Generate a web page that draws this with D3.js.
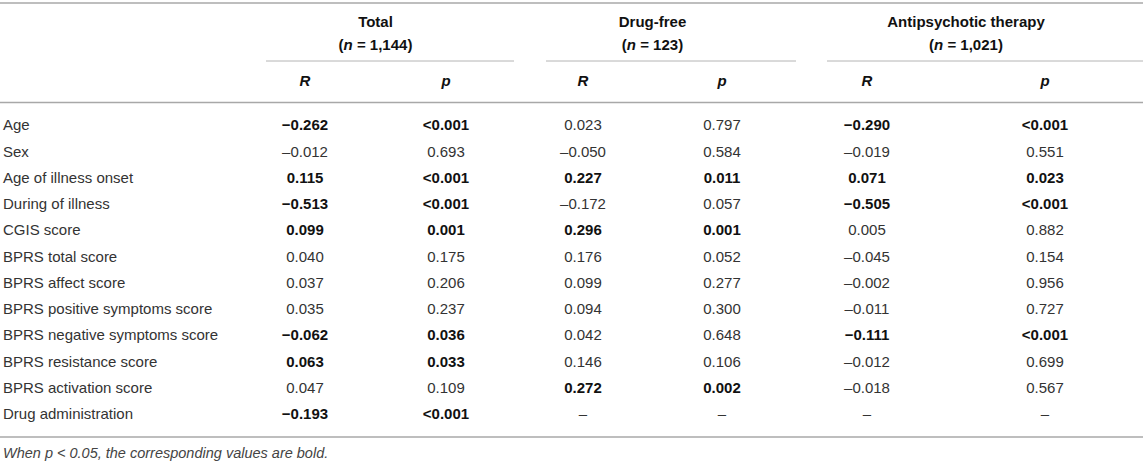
<!DOCTYPE html>
<html>
<head>
<meta charset="utf-8">
<script src="https://cdn.jsdelivr.net/npm/d3@7"></script>
<style>
  body { margin: 0; background: #fff; }
  svg { display: block; font-family: "Liberation Sans", Arial, Helvetica, sans-serif; }
</style>
</head>
<body>
<svg id="drawing_region"></svg>
<script>
// table contents
const rowLabels = ["Age", "Sex", "Age of illness onset", "During of illness", "CGIS score",
    "BPRS total score", "BPRS affect score", "BPRS positive symptoms score",
    "BPRS negative symptoms score", "BPRS resistance score", "BPRS activation score",
    "Drug administration"];

const groupNames = ["Total", "Drug-free", "Antipsychotic therapy"];
const groupN = ["1,144", "123", "1,021"];
const subHeaders = ["R", "p"];

const totalR  = [-0.262, -0.012, 0.115, -0.513, 0.099, 0.040, 0.037, 0.035, -0.062, 0.063, 0.047, -0.193];
const totalP  = ["<0.001", "0.693", "<0.001", "<0.001", "0.001", "0.175", "0.206", "0.237", "0.036", "0.033", "0.109", "<0.001"];
const freeR   = [0.023, -0.050, 0.227, -0.172, 0.296, 0.176, 0.099, 0.094, 0.042, 0.146, 0.272, null];
const freeP   = ["0.797", "0.584", "0.011", "0.057", "0.001", "0.052", "0.277", "0.300", "0.648", "0.106", "0.002", null];
const antiR   = [-0.290, -0.019, 0.071, -0.505, 0.005, -0.045, -0.002, -0.011, -0.111, -0.012, -0.018, null];
const antiP   = ["<0.001", "0.551", "0.023", "<0.001", "0.882", "0.154", "0.956", "0.727", "<0.001", "0.699", "0.567", null];

const footnote = "When p < 0.05, the corresponding values are bold.";

const config = {
    width: 1143,
    height: 463,
    fontSize: 15
};

const svg = d3.select('#drawing_region')
    .attr('width', config.width)
    .attr('height', config.height);

const groups = [
    { name: groupNames[0], n: groupN[0], R: totalR, P: totalP },
    { name: groupNames[1], n: groupN[1], R: freeR, P: freeP },
    { name: groupNames[2], n: groupN[2], R: antiR, P: antiP }
];

// column centres, one per R / p column
const colKeys = ["0R", "0p", "1R", "1p", "2R", "2p"];
const xscale = d3.scaleOrdinal()
    .domain(colKeys)
    .range([305, 446, 583, 722, 867, 1045]);
// where each group's underline starts and ends
const spanScale = d3.scaleOrdinal()
    .domain([0, 1, 2])
    .range([[266, 514], [546, 796], [827, 1143]]);

const yscale = d3.scalePoint()
    .domain(rowLabels)
    .range([125, 414]);

const isSig = p => p != null && (p.startsWith("<") || +p < 0.05);
const fmt = d3.format(".3f");
const fmtR = (v, bold) => {
    if (v == null) return "\u2013";
    const s = fmt(Math.abs(v));
    return v < 0 ? (bold ? "\u2212" : "\u2013") + s : s;
};

// rules
const rule = (x1, x2, y, w, c) => svg.append('line')
    .attr('x1', x1).attr('x2', x2).attr('y1', y).attr('y2', y)
    .attr('stroke', c).attr('stroke-width', w);
rule(0, config.width, 3, 1.5, '#a8a8a8');
rule(0, config.width, 102.5, 1.5, '#a8a8a8');
rule(0, config.width, 437, 1.5, '#a8a8a8');

// group headers
const head = svg.append('g');
groups.forEach((g, i) => {
    const span = spanScale(i);
    const cx = (xscale(i + "R") + xscale(i + "p")) / 2 + (i === 2 ? 10 : 0);
    rule(span[0], span[1], 61, 1, '#b4b4b4');
    head.append('text')
        .attr('x', cx).attr('y', 22).attr('dy', '0.35em')
        .attr('text-anchor', 'middle')
        .attr('font-weight', 'bold').attr('font-size', config.fontSize)
        .attr('fill', '#111')
        .text(g.name);
    const t = head.append('text')
        .attr('x', cx).attr('y', 45).attr('dy', '0.35em')
        .attr('text-anchor', 'middle')
        .attr('font-weight', 'bold').attr('font-size', config.fontSize)
        .attr('fill', '#111');
    t.append('tspan').text('(');
    t.append('tspan').attr('font-style', 'italic').text('n');
    t.append('tspan').text(' = ' + g.n + ')');

    subHeaders.forEach(s => {
        head.append('text')
            .attr('x', xscale(i + s)).attr('y', 81).attr('dy', '0.35em')
            .attr('text-anchor', 'middle')
            .attr('font-weight', 'bold').attr('font-style', 'italic')
            .attr('font-size', config.fontSize)
            .attr('fill', '#111')
            .text(s);
    });
});

// row labels
svg.append('g').selectAll('text')
    .data(rowLabels)
    .join('text')
    .attr('x', 3)
    .attr('y', d => yscale(d))
    .attr('dy', '0.35em')
    .attr('font-size', config.fontSize)
    .attr('fill', '#333')
    .text(d => d);

// body cells
const cells = [];
groups.forEach((g, i) => {
    rowLabels.forEach((lab, j) => {
        const bold = isSig(g.P[j]);
        cells.push({ col: i + "R", row: lab, text: fmtR(g.R[j], bold), bold: bold });
        cells.push({ col: i + "p", row: lab, text: g.P[j] == null ? "\u2013" : g.P[j], bold: bold });
    });
});

svg.append('g').selectAll('text')
    .data(cells)
    .join('text')
    .attr('x', d => xscale(d.col))
    .attr('y', d => yscale(d.row))
    .attr('dy', '0.35em')
    .attr('text-anchor', 'middle')
    .attr('font-size', config.fontSize)
    .attr('font-weight', d => d.bold ? 'bold' : 'normal')
    .attr('fill', d => d.bold ? '#111' : '#333')
    .text(d => d.text);

// footnote
svg.append('text')
    .attr('x', 3).attr('y', 453).attr('dy', '0.35em')
    .attr('font-size', 14.5)
    .attr('font-style', 'italic')
    .attr('fill', '#444')
    .text(footnote);
</script>
</body>
</html>
